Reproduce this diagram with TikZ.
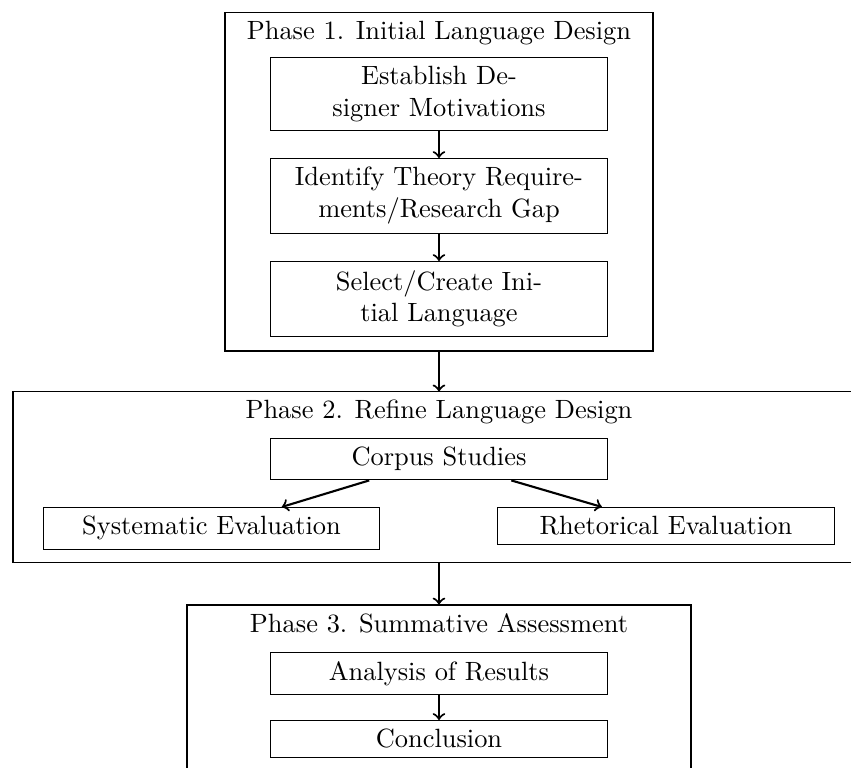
\documentclass[tikz,border=0pt]{standalone}
\usepackage{amsmath}
\usepackage{tikz}

\begin{document}
\begin{tikzpicture}[
	stepbox/.style={draw, text width=4.24cm, align=center, anchor=north},
	phasebox/.style={draw, inner sep=0},
	phasetitle/.style={anchor=base},
	flow/.style={->, thick}]
	\useasboundingbox (0,0) rectangle (11.327,-10.222);
	% Phase 1
	\node[phasebox, minimum width=5.697cm, minimum height=4.512cm] (p1) at (5.843,-2.416) {};
	\node[phasetitle] (t1) at (5.843,-0.532) {Phase 1. Initial Language Design};
	\node[stepbox] (motiv) at (5.843,-0.759) {Establish De-\\signer Motivations};
	\node[stepbox] (gap) at (5.843,-2.103) {Identify Theory Require-\\ments/Research Gap};
	\node[stepbox] (lang) at (5.843,-3.474) {Select/Create Ini-\\tial Language};
	\draw[flow] (motiv) -- (gap);
	\draw[flow] (gap) -- (lang);
	% Phase 2
	\node[phasebox, minimum width=11.340cm, minimum height=2.276cm] (p2) at (5.843,-6.355) {};
	\node[phasetitle] (t2) at (5.843,-5.564) {Phase 2. Refine Language Design};
	\node[stepbox] (corpus) at (5.843,-5.830) {Corpus Studies};
	\node[stepbox] (sys) at (2.815,-6.748) {Systematic Evaluation};
	\node[stepbox] (rhet) at (8.864,-6.748) {Rhetorical Evaluation};
	\draw[flow] (corpus) -- (sys);
	\draw[flow] (corpus) -- (rhet);
	% Phase 3
	\node[phasebox, minimum width=6.708cm, minimum height=2.263cm] (p3) at (5.843,-9.184) {};
	\node[phasetitle] (t3) at (5.843,-8.425) {Phase 3. Summative Assessment};
	\node[stepbox] (results) at (5.843,-8.678) {Analysis of Results};
	\node[stepbox] (concl) at (5.843,-9.583) {Conclusion};
	\draw[flow] (results) -- (concl);
	% between phases
	\draw[flow] (p1) -- (p2);
	\draw[flow] (p2) -- (p3);
\end{tikzpicture}
\end{document}
